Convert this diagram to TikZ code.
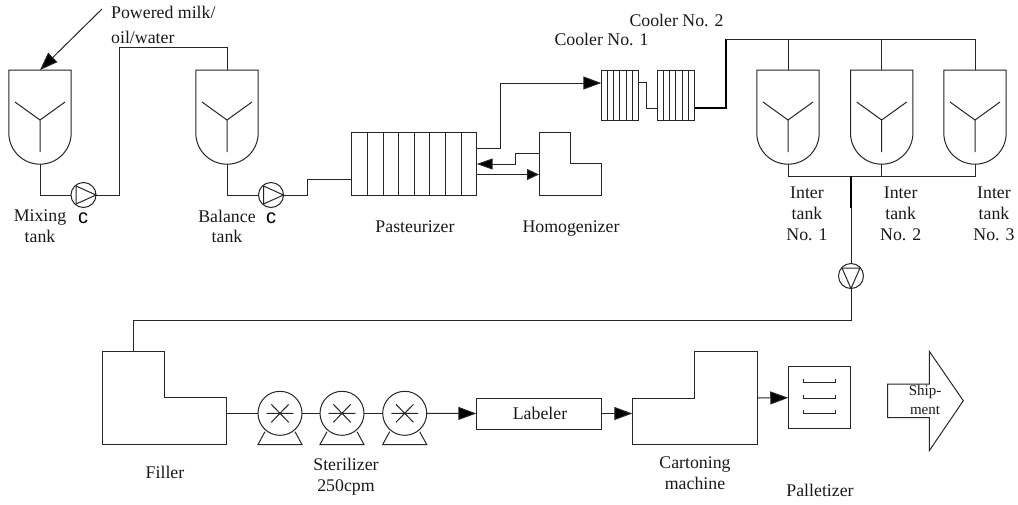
\documentclass[tikz,border=0pt]{standalone}
\usepackage{fontspec}
\setmainfont{Liberation Serif}
\newfontfamily\csans{Liberation Sans}
\usetikzlibrary{arrows.meta,calc}
\tikzset{
  ln/.style={line width=1pt,draw=black!85,line join=miter},
  thickln/.style={line width=2pt,draw=black},
  tip/.style={-{Triangle[length=18pt,width=13pt,fill=black]}},
  tipmid/.style={-{Triangle[length=16pt,width=11pt,fill=black]}},
  tipsmall/.style={-{Triangle[length=12pt,width=11pt,fill=black]}},
  lab/.style={font=\fontsize{17.8}{20.8}\selectfont,align=center,inner sep=0pt,text=black!90},
  slab/.style={font=\fontsize{17.8}{20.8}\selectfont,anchor=base,inner sep=0pt,text=black!90},
  smalllab/.style={font=\fontsize{15}{19}\selectfont,align=center,inner sep=0pt,text=black!90},
  clab/.style={font=\csans\fontsize{20}{22}\selectfont,inner sep=0pt,text=black},
  boxn/.style={ln,rectangle,inner sep=0pt,outer sep=0pt},
  pumpn/.style={ln,circle,minimum size=25pt,inner sep=0pt,outer sep=0pt},
  steril/.style={ln,circle,minimum size=44pt,inner sep=0pt,outer sep=0pt},
}
% tank: centre x, name
\newcommand{\mytank}[2]{%
  \coordinate (#2top) at (#1,70);
  \coordinate (#2bot) at (#1,164);
  \draw[ln] (#1-31.2,70) -- (#1+31.2,70) -- (#1+31.2,133)
    arc[start angle=0,end angle=180,radius=31.2] -- cycle;
  \draw[ln] (#1-25,102) -- (#1,120) -- (#1+25,102) (#1,120) -- (#1,152);
}
% sterilizer: centre x, name
\newcommand{\mysteril}[2]{%
  \node[steril] (#2) at (#1,413.3) {};
  \draw[ln] (#1-15,431.7) -- (#1-22,444.5) -- (#1+22,444.5) -- (#1+15,431.7);
  \draw[ln] (#1-13.3,413.3) -- (#1+13.3,413.3) (#1-8.7,404.3) -- (#1+8.7,422.3) (#1-8.7,422.3) -- (#1+8.7,404.3);
}
\begin{document}
\begin{tikzpicture}[x=1pt,y=-1pt]
\useasboundingbox (0,0) rectangle (1018,504);

% tanks
\mytank{40}{mix}
\mytank{227}{bal}
\mytank{788}{ia}
\mytank{881.7}{ib}
\mytank{975}{ic}

% pumps
\node[pumpn] (p1) at (83.5,195) {};
\draw[ln] (76,186) -- (76,204) -- (96,195) -- cycle;
\node[pumpn] (p2) at (271,195) {};
\draw[ln] (263.5,186) -- (263.5,204) -- (283.5,195) -- cycle;
\node[pumpn] (p3) at (851,276) {};
\draw[ln] (842,268) -- (860,268) -- (851,288.5) -- cycle;

% pasteurizer
\node[boxn,minimum width=124.8pt,minimum height=62.4pt] (past) at (414.3,164) {};
\foreach \i in {1,...,7} \draw[ln] ($(past.south west)+(15.6*\i,0)$) -- ($(past.north west)+(15.6*\i,0)$);

% coolers
\node[boxn,minimum width=37.4pt,minimum height=50pt] (c1) at (620,95) {};
\foreach \i in {1,...,5} \draw[ln] ($(c1.south west)+(6.23*\i,0)$) -- ($(c1.north west)+(6.23*\i,0)$);
\node[boxn,minimum width=37.4pt,minimum height=50pt] (c2) at (676,95) {};
\foreach \i in {1,...,5} \draw[ln] ($(c2.south west)+(6.23*\i,0)$) -- ($(c2.north west)+(6.23*\i,0)$);

% homogenizer
\coordinate (homa) at (539,153.7);
\coordinate (homb) at (539,174.5);
\draw[ln] (539,132.7) -- (570,132.7) -- (570,163.7) -- (601.3,163.7) -- (601.3,195) -- (539,195) -- cycle;

% filler
\coordinate (filtop) at (133,351);
\coordinate (filout) at (226.7,413.3);
\draw[ln] (102.3,351) -- (164.3,351) -- (164.3,397.7) -- (226.7,397.7) -- (226.7,444.7) -- (102.3,444.7) -- cycle;

% sterilizers
\mysteril{280}{s1}
\mysteril{342}{s2}
\mysteril{404.7}{s3}

% labeler
\node[boxn,minimum width=125pt,minimum height=31pt] (lab) at (538.8,413.5) {};

% cartoning machine
\coordinate (carin) at (632.3,413.5);
\coordinate (carout) at (757.3,398);
\draw[ln] (694.7,351.3) -- (757.3,351.3) -- (757.3,444.7) -- (632.3,444.7) -- (632.3,398) -- (694.7,398) -- cycle;

% palletizer
\node[boxn,minimum width=62.7pt,minimum height=62.3pt] (pal) at (819.6,397.8) {};
\foreach \y in {382.3,398,413.3}
  \draw[ln] (803.3,\y-3) -- (803.3,\y) -- (835.7,\y) -- (835.7,\y-3);

% shipment arrow
\draw[ln] (887.7,384) -- (929.3,384) -- (929.3,351.3) -- (963.3,400.7) -- (929.3,450.7) -- (929.3,417.7) -- (887.7,417.7) -- cycle;

% connectors
\coordinate (feed) at (102,9);
\draw[ln,tip] (feed) -- (mixtop);
\draw[ln] (mixbot) |- (p1.west);
\draw[ln] (p1.east) -- (119,195) -- (119,47) -| (baltop);
\draw[ln] (balbot) |- (p2.west);
\draw[ln] (p2.east) -- (307,195) -- (307,179.3) -- (past.west |- 0,179.3);
\draw[ln,tip] (past.east |- 0,148.3) -- (500,148.3) -- (500,83) -- (c1.west |- 0,83);
\draw[ln] (c1.east |- 0,82.5) -- (646,82.5) -- (646,108) -- (c2.west |- 0,108);
\draw[thickln] (c2.east |- 0,108) -- (726,108) -- (726,39);
\draw[ln] (726,39) -- (975,39) -- (ictop);
\draw[ln] (iatop) -- (788,39) (ibtop) -- (881.7,39);
\draw[ln] (iabot) -- (788,176) -- (975,176) -- (icbot);
\draw[ln] (ibbot) -- (881.7,176);
\draw[thickln,line width=1.8pt] (851,176) -- (851,208);
\draw[ln] (851,208) -- (p3.north);
\draw[ln] (p3.south) -- (851,320) -- (133,320) -- (filtop);
\draw[ln] (filout) -- (s1.west);
\draw[ln] (s1.east) -- (s2.west);
\draw[ln] (s2.east) -- (s3.west);
\draw[ln,tip] (s3.east) -- (lab.west);
\draw[ln,tip] (lab.east) -- (carin);
\draw[ln,tip] (carout) -- (pal.west);
\draw[ln,tipmid] (homa) -- (515.5,153.7) -- (515.5,164) -- (past.east |- 0,164);
\draw[ln,tipsmall] (past.east |- 0,174.5) -- (homb);

% labels
\node[slab,anchor=base west] (t1) at (111,18.3) {Powered milk/};
\node[slab,anchor=base west] (t2) at (111,43.3) {oil/water};
\node[lab] (t3) at (40,226.5) {Mixing\\tank};
\node[lab] (t4) at (227,226.5) {Balance\\tank};
\node[clab] (t5) at (83,218) {c};
\node[clab] (t6) at (271,218) {c};
\node[slab] (t7) at (415,232) {Pasteurizer};
\node[slab] (t8) at (571,232) {Homogenizer};
\node[slab] (t9) at (601.5,45) {Cooler No. 1};
\node[slab] (t10) at (676.5,26) {Cooler No. 2};
\node[lab] (t11) at (807,213.5) {Inter\\tank\\No. 1};
\node[lab] (t12) at (900.7,213.5) {Inter\\tank\\No. 2};
\node[lab] (t13) at (994,213.5) {Inter\\tank\\No. 3};
\node[slab] (t14) at (165,478) {Filler};
\node[lab] (t15) at (346,477) {Sterilizer\\250cpm};
\node[slab] (t16) at (540,419) {Labeler};
\node[lab] (t17) at (695,473) {Cartoning\\machine};
\node[slab] (t18) at (820,496.7) {Palletizer};
\node[smalllab] (t19) at (925,400) {Ship-\\ment};
\end{tikzpicture}
\end{document}
